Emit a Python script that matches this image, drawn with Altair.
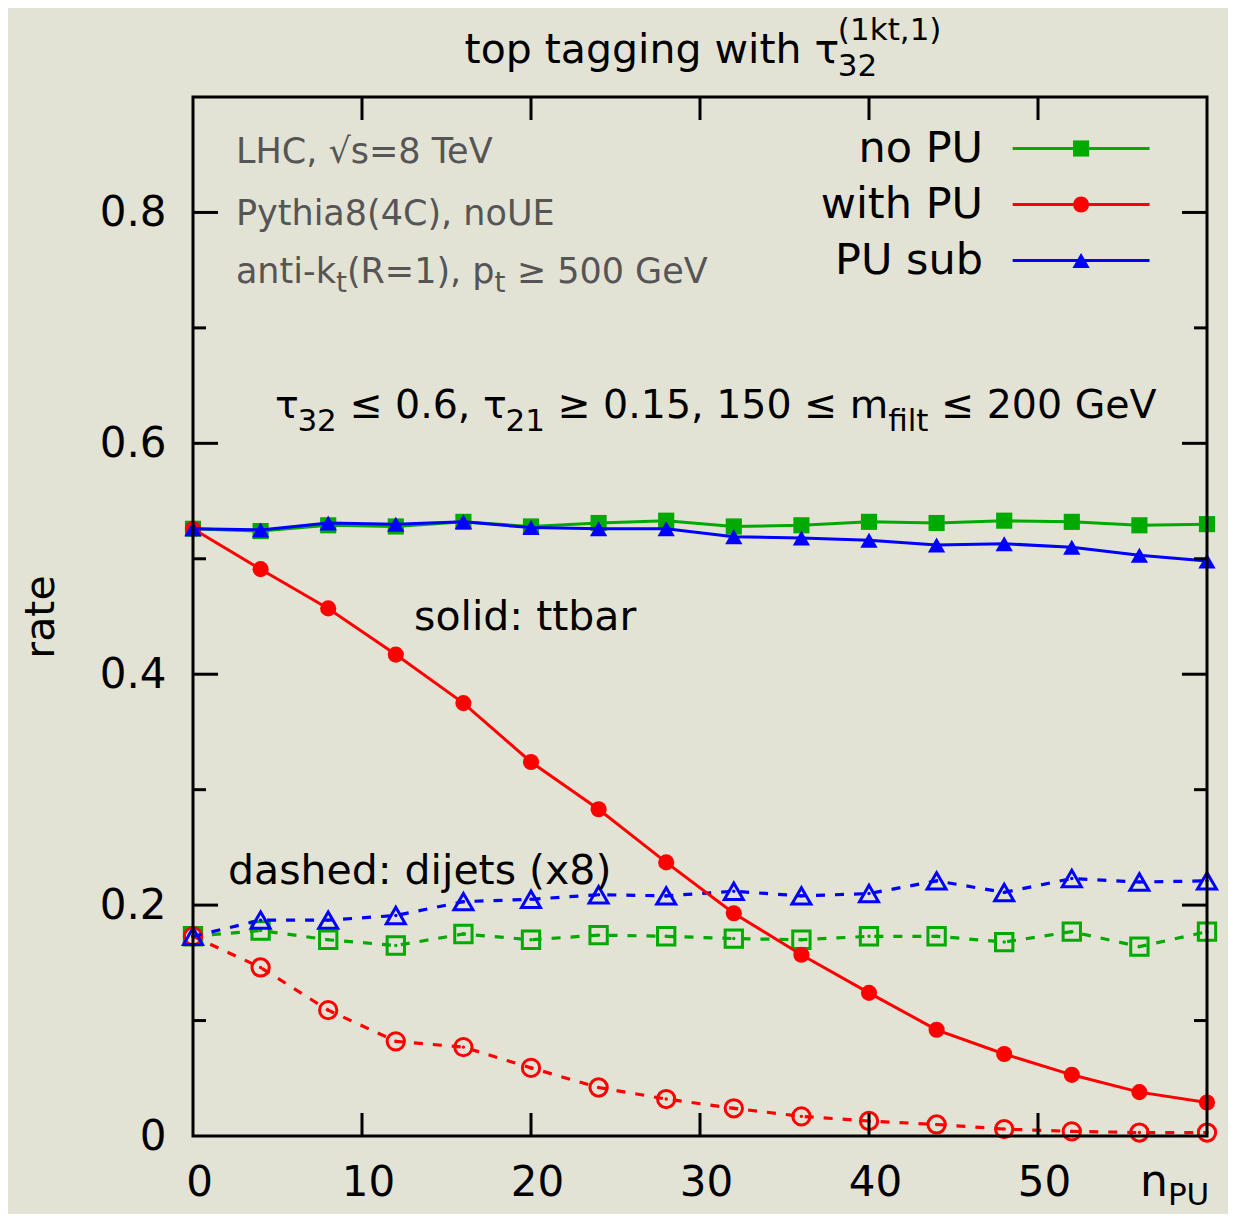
import altair as alt
import pandas as pd

# ---------------- data ----------------
npu = [0, 4, 8, 12, 16, 20, 24, 28, 32, 36, 40, 44, 48, 52, 56, 60]

ttbar_no_pu = [0.526, 0.524, 0.529, 0.528, 0.532, 0.528, 0.531, 0.533, 0.528, 0.529, 0.532, 0.531, 0.533, 0.532, 0.529, 0.530]
ttbar_with_pu = [0.526, 0.491, 0.457, 0.417, 0.375, 0.324, 0.283, 0.237, 0.193, 0.157, 0.124, 0.092, 0.071, 0.053, 0.038, 0.029]
ttbar_pu_sub = [0.526, 0.525, 0.531, 0.530, 0.532, 0.527, 0.526, 0.526, 0.519, 0.518, 0.516, 0.512, 0.513, 0.510, 0.503, 0.498]

dijet_no_pu = [0.173, 0.178, 0.170, 0.165, 0.175, 0.170, 0.174, 0.173, 0.171, 0.170, 0.173, 0.173, 0.168, 0.177, 0.164, 0.177]
dijet_with_pu = [0.173, 0.146, 0.109, 0.082, 0.077, 0.059, 0.042, 0.032, 0.024, 0.017, 0.013, 0.010, 0.006, 0.004, 0.003, 0.003]
dijet_pu_sub = [0.173, 0.187, 0.187, 0.191, 0.203, 0.205, 0.209, 0.208, 0.212, 0.208, 0.210, 0.221, 0.211, 0.223, 0.220, 0.221]

cases = ["no PU", "with PU", "PU sub"]
case_colors = ["#00aa00", "#ff0000", "#0000ff"]
case_shapes = ["square", "circle", "triangle-up"]

x_tick_labels = [0, 10, 20, 30, 40, 50]
y_tick_labels = [0, 0.2, 0.4, 0.6, 0.8]
y_minor = [0.1, 0.3, 0.5, 0.7]
x_inner_ticks = [10, 20, 30, 40, 50]

# ---------------- style ----------------
FONT = "DejaVu Sans"
BG = "#e3e3d5"
W, H = 1014, 1039

xs = alt.Scale(domain=[0, 60], nice=False, zero=False)
ys = alt.Scale(domain=[0, 0.9], nice=False, zero=False)

x_axis = alt.Axis(values=x_tick_labels, ticks=False, domain=False, grid=False,
                  labelFont=FONT, labelFontSize=42, labelColor="black",
                  labelPadding=26, labelOffset=6, labelFlush=False, title=None)
y_axis = alt.Axis(values=y_tick_labels, ticks=False, domain=False, grid=False,
                  labelFont=FONT, labelFontSize=42, labelColor="black",
                  labelPadding=27, labelFlush=False, title=None,
                  labelExpr="datum.value == 0 ? '0' : format(datum.value, '.1f')")

x_enc = alt.X("npu:Q", scale=xs, axis=x_axis)
y_enc = alt.Y("rate:Q", scale=ys, axis=y_axis)

# DejaVu Sans advance widths (per 1000 em)
WID = {" ": 318, ".": 318, ",": 318, ":": 337, "(": 390, ")": 390, "=": 838, "-": 361,
       "≤": 838, "≥": 838, "τ": 568, "√": 636,
       "C": 698, "E": 632, "G": 775, "H": 752, "L": 557, "P": 603, "R": 695, "T": 611,
       "U": 732, "V": 684,
       "a": 613, "b": 635, "c": 550, "d": 635, "e": 615, "f": 352, "g": 635, "h": 634,
       "i": 278, "j": 278, "k": 579, "l": 278, "m": 974, "n": 634, "o": 612, "p": 635,
       "r": 411, "s": 521, "t": 392, "u": 634, "v": 592, "w": 818, "x": 592, "y": 592}
for d in "0123456789":
    WID[d] = 636


def tw(s, size):
    return sum(WID.get(c, 600) for c in s) / 1000.0 * size


def rich(segs, x, y, align="left", pixel=False, color="black"):
    """segs: list of (text, fontsize, dy, advance)"""
    pos, cur, maxend = [], 0.0, 0.0
    for t, s, dy, adv in segs:
        w = tw(t, s)
        pos.append(cur)
        maxend = max(maxend, cur + w)
        if adv:
            cur += w
    shift = {"left": 0.0, "center": -maxend / 2, "right": -maxend}[align]
    out = []
    for (t, s, dy, adv), p in zip(segs, pos):
        lead = len(t) - len(t.lstrip(" "))
        shown = t.strip(" ")
        df = pd.DataFrame({"label": [shown], "npu": [x], "rate": [y]})
        if pixel:
            enc = dict(x=alt.value(x), y=alt.value(y), text="label:N")
        else:
            enc = dict(x=x_enc, y=y_enc, text="label:N")
        out.append(alt.Chart(df).mark_text(align="left", baseline="alphabetic",
                                           dx=p + shift + tw(" " * lead, s), dy=dy,
                                           fontSize=s, font=FONT,
                                           color=color).encode(**enc))
    return out


layers = []

# ---------------- series ----------------
series = {
    ("ttbar", "no PU"): ttbar_no_pu,
    ("ttbar", "with PU"): ttbar_with_pu,
    ("ttbar", "PU sub"): ttbar_pu_sub,
    ("dijets", "no PU"): dijet_no_pu,
    ("dijets", "with PU"): dijet_with_pu,
    ("dijets", "PU sub"): dijet_pu_sub,
}

for sample in ["dijets", "ttbar"]:
    for case, col, shp in zip(cases, case_colors, case_shapes):
        df = pd.DataFrame({"npu": npu, "rate": series[(sample, case)]})
        base = alt.Chart(df).encode(x=x_enc, y=y_enc)
        if sample == "ttbar":
            layers.append(base.mark_line(color=col, strokeWidth=3))
            layers.append(base.mark_point(shape=shp, filled=True, color=col, opacity=1,
                                          size=300 if shp == "triangle-up" else 260))
        else:
            layers.append(base.mark_line(color=col, strokeWidth=3.2, strokeDash=[9, 10]))
            layers.append(base.mark_point(shape=shp, filled=False, color=col, opacity=1,
                                          strokeWidth=3,
                                          size=360 if shp == "triangle-up" else 300))
            layers.append(base.mark_point(shape="circle", filled=True, color=col, opacity=1,
                                          size=12))

# ---------------- inward ticks ----------------
ymaj = pd.DataFrame({"rate": y_tick_labels[1:]})
ymin = pd.DataFrame({"rate": y_minor})
xmaj = pd.DataFrame({"npu": x_inner_ticks})
tick_kw = dict(color="black", strokeWidth=3)
layers += [
    alt.Chart(ymaj).mark_rule(**tick_kw).encode(y=y_enc, x=alt.value(0), x2=alt.value(25)),
    alt.Chart(ymaj).mark_rule(**tick_kw).encode(y=y_enc, x=alt.value(W - 25), x2=alt.value(W)),
    alt.Chart(ymin).mark_rule(**tick_kw).encode(y=y_enc, x=alt.value(0), x2=alt.value(13)),
    alt.Chart(ymin).mark_rule(**tick_kw).encode(y=y_enc, x=alt.value(W - 13), x2=alt.value(W)),
    alt.Chart(xmaj).mark_rule(**tick_kw).encode(x=x_enc, y=alt.value(H), y2=alt.value(H - 23)),
    alt.Chart(xmaj).mark_rule(**tick_kw).encode(x=x_enc, y=alt.value(0), y2=alt.value(23)),
]

# ---------------- frame ----------------
layers.append(alt.Chart(pd.DataFrame({"a": [0]})).mark_rect(
    filled=False, stroke="black", strokeWidth=3, fillOpacity=0).encode(
    x=alt.value(0), x2=alt.value(W), y=alt.value(0), y2=alt.value(H)))

# ---------------- legend ----------------
leg_rate = [0.8554, 0.8069, 0.7584]
for case, col, shp, r in zip(cases, case_colors, case_shapes, leg_rate):
    d = pd.DataFrame({"npu": [48.5, 56.6], "rate": [r, r]})
    layers.append(alt.Chart(d).mark_line(color=col, strokeWidth=3).encode(x=x_enc, y=y_enc))
    dm = pd.DataFrame({"npu": [52.55], "rate": [r]})
    layers.append(alt.Chart(dm).mark_point(shape=shp, filled=True, color=col, opacity=1,
                                           size=300 if shp == "triangle-up" else 260).encode(x=x_enc, y=y_enc))
    layers += rich([(case, 43, 14, True)], 46.75, r, align="right")

# ---------------- annotations ----------------
GRAY = "#555555"
layers += rich([("LHC, √s=8 TeV", 35, 0, True)], 2.54, 0.8424, color=GRAY)
layers += rich([("Pythia8(4C), noUE", 35, 0, True)], 2.54, 0.7887, color=GRAY)
layers += rich([("anti-k", 35, 0, True), ("t", 28, 9, True), ("(R=1), p", 35, 0, True),
                ("t", 28, 9, True), (" ≥ 500 GeV", 35, 0, True)], 2.54, 0.7385, color=GRAY)

layers += rich([("τ", 39.5, 0, True), ("32", 31, 13, True), (" ≤ 0.6, τ", 39.5, 0, True),
                ("21", 31, 13, True), (" ≥ 0.15, 150 ≤ m", 39.5, 0, True),
                ("filt", 31, 13, True), (" ≤ 200 GeV", 39.5, 0, True)], 4.85, 0.6216)

layers += rich([("solid: ttbar", 41, 0, True)], 13.08, 0.438)
layers += rich([("dashed: dijets (x8)", 41, 0, True)], 2.07, 0.218)

# title above plot (pixel coordinates relative to plot area)
title_segs = [("top tagging with τ", 41, 0, True), ("32", 31, 13, False), ("(1kt,1)", 31, -23, True)]
layers += rich(title_segs, W / 2 + 3, -34, align="center", pixel=True)

# axis titles
layers += rich([("n", 44, 0, True), ("PU", 31, 9, True)], 947, 1099, pixel=True)
layers.append(alt.Chart(pd.DataFrame({"label": ["rate"]})).mark_text(
    angle=270, align="center", baseline="middle", fontSize=41, font=FONT, color="black").encode(
    x=alt.value(-151), y=alt.value(520), text="label:N"))

chart = alt.layer(*layers).properties(
    width=W, height=H,
    autosize=alt.AutoSizeParams(type="none"),
    padding={"left": 185, "top": 89, "right": 21, "bottom": 78},
    background=BG,
).configure_view(stroke=None)

chart.save("out.html", embed_options={"renderer": "svg", "actions": False})
